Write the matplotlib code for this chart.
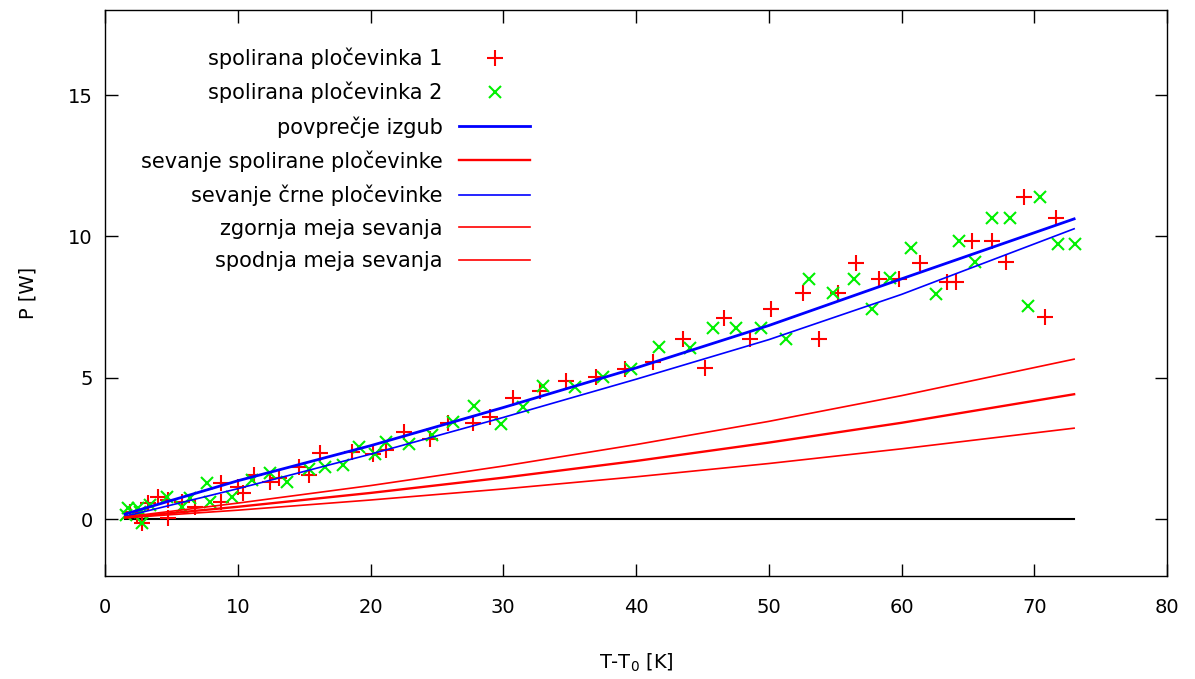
import numpy as np
import matplotlib
matplotlib.use("Agg")
import matplotlib.pyplot as plt

# Meritve - spolirana plocevinka 1 (T-T0 [K], P [W])
x_pl1 = [1.9, 2.4, 2.8, 3.2, 4.0, 4.75, 4.75, 5.8, 6.8, 8.7, 8.7, 10.0, 10.4,
         11.2, 12.4, 13.1, 14.6, 15.4, 16.2, 18.6, 20.2, 21.2, 22.5, 24.5,
         25.8, 27.7, 29.0, 30.7, 32.8, 34.7, 37.0, 39.2, 41.3, 43.5, 45.2,
         46.6, 48.6, 50.2, 52.6, 53.8, 55.2, 56.6, 58.3, 59.8, 61.4, 63.4,
         64.1, 65.3, 66.8, 67.9, 69.2, 70.8, 71.6]
y_pl1 = [0.25, 0.14, -0.14, 0.57, 0.78, 0.04, 0.67, 0.60, 0.42, 0.60, 1.27,
         1.13, 0.92, 1.56, 1.31, 1.45, 1.84, 1.56, 2.34, 2.37, 2.30, 2.44,
         3.08, 2.85, 3.40, 3.40, 3.61, 4.28, 4.53, 4.88, 5.03, 5.30, 5.56,
         6.37, 5.34, 7.10, 6.37, 7.43, 8.00, 6.37, 8.00, 9.06, 8.50, 8.50,
         9.06, 8.39, 8.39, 9.84, 9.84, 9.10, 11.40, 7.15, 10.65]

# Meritve - spolirana plocevinka 2
x_pl2 = [1.6, 1.7, 2.5, 2.6, 2.8, 3.4, 4.7, 5.8, 6.4, 7.7, 7.9, 9.6, 11.1,
         12.4, 13.7, 15.4, 16.6, 17.9, 19.1, 20.3, 21.2, 22.9, 24.6, 26.2,
         27.8, 29.8, 31.5, 33.0, 35.4, 37.5, 39.6, 41.7, 44.1, 45.8, 47.5,
         49.4, 51.3, 53.0, 54.8, 56.4, 57.8, 59.1, 60.7, 62.6, 64.3, 65.5,
         66.8, 68.2, 69.5, 70.4, 71.8, 73.1]
y_pl2 = [0.14, 0.40, 0.39, 0.25, -0.15, 0.50, 0.78, 0.42, 0.74, 1.27, 0.60,
         0.78, 1.38, 1.63, 1.31, 1.77, 1.84, 1.91, 2.55, 2.30, 2.73, 2.65,
         2.97, 3.43, 4.00, 3.36, 3.96, 4.70, 4.67, 5.03, 5.30, 6.09, 6.05,
         6.75, 6.75, 6.75, 6.37, 8.50, 8.00, 8.50, 7.43, 8.53, 9.59, 7.96,
         9.84, 9.10, 10.65, 10.65, 7.54, 11.40, 9.73, 9.73]

# Krivulje (odcitane vrednosti)
x_kr = [1.5, 10, 20, 30, 40, 50, 60, 73]
y_povprecje = [0.18, 1.36, 2.60, 3.95, 5.35, 6.85, 8.50, 10.62]
y_crna = [0.10, 1.08, 2.30, 3.60, 4.95, 6.35, 7.95, 10.27]
y_sev_spol = [0.06, 0.44, 0.93, 1.47, 2.06, 2.71, 3.41, 4.42]
y_zgornja = [0.08, 0.57, 1.19, 1.88, 2.64, 3.46, 4.37, 5.66]
y_spodnja = [0.05, 0.32, 0.68, 1.07, 1.50, 1.97, 2.49, 3.22]

x_nic = [1.5, 73]
y_nic = [0, 0]

plt.rcParams['font.family'] = ['DejaVu Sans']

fig = plt.figure(figsize=(11.95, 6.79), dpi=100)
ax = fig.add_axes([0.0879, 0.152, 0.8887, 0.833])

ax.plot(x_nic, y_nic, color='black', linewidth=1.5)

ax.plot(x_pl1, y_pl1, linestyle='none', marker='+', markersize=11,
        markeredgewidth=1.5, color='#ff0000', label='spolirana pločevinka 1')
ax.plot(x_pl2, y_pl2, linestyle='none', marker='x', markersize=9,
        markeredgewidth=1.5, color='#00f000', label='spolirana pločevinka 2')
ax.plot(x_kr, y_povprecje, color='#0000ff', linewidth=2.0,
        label='povprečje izgub')
ax.plot(x_kr, y_sev_spol, color='#ff0000', linewidth=1.7,
        label='sevanje spolirane pločevinke')
ax.plot(x_kr, y_crna, color='#0000ff', linewidth=1.2,
        label='sevanje črne pločevinke')
ax.plot(x_kr, y_zgornja, color='#ff0000', linewidth=1.2,
        label='zgornja meja sevanja')
ax.plot(x_kr, y_spodnja, color='#ff0000', linewidth=1.2,
        label='spodnja meja sevanja')

ax.set_xlim(0, 80)
ax.set_ylim(-2, 18)
ax.set_xticks(np.arange(0, 81, 10))
ax.set_yticks([0, 5, 10, 15])
ax.tick_params(direction='in', length=9, width=1, top=True, right=True,
               labelsize=14)
ax.tick_params(axis='x', pad=16)
ax.tick_params(axis='y', pad=9)
for s in ax.spines.values():
    s.set_linewidth(1.0)

ax.set_xlabel('T-T$_0$ [K]', fontsize=14, labelpad=25)
ax.set_ylabel('P [W]', fontsize=14, labelpad=22)

ax.legend(loc='upper right', bbox_to_anchor=(0.418, 0.967), frameon=False,
          markerfirst=False, fontsize=15, handlelength=3.4,
          handletextpad=0.8, labelspacing=0.61, numpoints=1)

plt.savefig('out.png', dpi=100)
